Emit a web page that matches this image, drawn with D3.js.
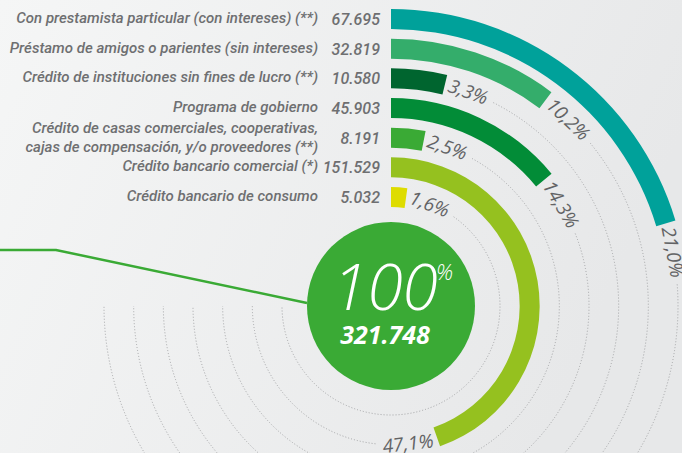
<!DOCTYPE html>
<html>
<head>
<meta charset="utf-8">
<script src="https://cdn.jsdelivr.net/npm/d3@7"></script>
<style>
  html, body { margin: 0; padding: 0; }
  svg { display: block; }
  .label { font-family: Roboto, "Open Sans", sans-serif; font-style: italic; font-weight: 500; font-size: 15px; fill: #6e6f71; }
  .value { font-family: Roboto, "Open Sans", sans-serif; font-style: italic; font-weight: 500; font-size: 16px; fill: #6e6f71; }
  .pct { font-family: "Open Sans", sans-serif; font-style: italic; font-weight: 400; font-size: 19px; fill: #626365; }
  .track { fill: none; stroke: #a3a4a6; stroke-width: 1; stroke-dasharray: 1 2; }
</style>
</head>
<body>
<svg id="chart" width="682" height="453"></svg>
<script>
// Financing sources, outermost ring first
var categories = [
  ["Con prestamista particular (con intereses) (**)"],
  ["Préstamo de amigos o parientes (sin intereses)"],
  ["Crédito de instituciones sin fines de lucro (**)"],
  ["Programa de gobierno"],
  ["Crédito de casas comerciales, cooperativas,", "cajas de compensación, y/o proveedores (**)"],
  ["Crédito bancario comercial (*)"],
  ["Crédito bancario de consumo"]
];
var values = [67695, 32819, 10580, 45903, 8191, 151529, 5032];
var total = 321748;
var colors = ["#00a19a", "#34ad6b", "#00652f", "#028c37", "#3aaa35", "#95c11f", "#dedc00"];

var svg = d3.select("#chart");
var width = +svg.attr("width");
var height = +svg.attr("height");
var cx = 391, cy = 306;

// Spanish number formats: 67.695 and 21,0
var es = d3.formatLocale({ decimal: ",", thousands: ".", grouping: [3], currency: ["$", ""] });
var fmtValue = es.format(",d");
var fmtPct = es.format(".1f");

var pct = values.map(function(v) { return v / total * 100; });

// background
var defs = svg.append("defs");
var grad = defs.append("linearGradient").attr("id", "bg").attr("x1", 0).attr("x2", 1).attr("y1", 0).attr("y2", 0.3);
grad.append("stop").attr("offset", 0).attr("stop-color", "#f5f6f6");
grad.append("stop").attr("offset", 1).attr("stop-color", "#e7e8e9");
svg.append("rect").attr("width", width).attr("height", height).attr("fill", "url(#bg)");

// ring radius per category, angle per percentage
var radius = d3.scalePoint().domain(d3.range(categories.length)).range([287, 109]);
var angle = d3.scaleLinear().domain([0, 100]).range([2.64 * Math.PI / 180, 338.3 * Math.PI / 180]);
var half = 10;

var arc = d3.arc()
  .innerRadius(function(d, i) { return radius(i) - half; })
  .outerRadius(function(d, i) { return radius(i) + half; })
  .startAngle(0)
  .endAngle(function(d) { return angle(d); });

var center = svg.append("g").attr("transform", "translate(" + cx + "," + cy + ")");

// leader line into the big circle
var leader = d3.line();
svg.append("path")
  .attr("d", leader([[0, 250], [56, 250], [cx - 84, cy - 3]]))
  .attr("fill", "none").attr("stroke", "#3aaa35").attr("stroke-width", 2.5);

center.append("circle").attr("r", 84).attr("fill", "#3aaa35");

var rings = center.selectAll("g.ring")
  .data(pct)
  .enter().append("g").attr("class", "ring");

rings.append("path")
  .attr("d", function(d, i) { return arc(d, i); })
  .attr("fill", function(d, i) { return colors[i]; });

rings.each(function(d, i) {
  var g = d3.select(this);
  var r = radius(i);
  var a1 = angle(d);
  var t = g.append("text").attr("class", "pct")
    .attr("text-anchor", "middle")
    .attr("dy", "0.35em")
    .text(fmtPct(d) + "%");
  var w = t.node().getComputedTextLength();
  var gap = 4;
  var mid = a1 + (gap + w / 2) / r;
  var deg = mid * 180 / Math.PI;
  t.attr("transform", "rotate(" + deg + ") translate(0," + (-r) + ")" + (deg > 120 ? " rotate(180)" : ""));

  // dotted track from the label round to the left horizontal
  var start = a1 + (gap * 2 + w + 3) / r;
  var p = d3.path();
  p.arc(0, 0, r, start - Math.PI / 2, Math.PI);
  g.insert("path", ":first-child").attr("class", "track").attr("d", p.toString());
});

// category labels and values
var rows = svg.selectAll("g.row")
  .data(categories)
  .enter().append("g").attr("class", "row")
  .attr("transform", function(d, i) { return "translate(0," + (cy - radius(i)) + ")"; });

rows.append("text").attr("class", "label")
  .attr("text-anchor", "end")
  .attr("x", 318)
  .selectAll("tspan")
  .data(function(d) { return d; })
  .enter().append("tspan")
    .attr("x", 318)
    .attr("y", function(d, j, nodes) { return nodes.length > 1 ? (j === 0 ? -5 : 14) : 4; })
    .text(function(d) { return d; });

rows.append("text").attr("class", "value")
  .attr("text-anchor", "end")
  .attr("x", 380)
  .attr("y", 6)
  .text(function(d, i) { return fmtValue(values[i]); });

// total in the middle
center.append("text")
  .attr("x", -6).attr("y", 4)
  .attr("text-anchor", "middle")
  .style("font-family", "'Open Sans', sans-serif")
  .style("font-style", "italic").style("font-weight", 300)
  .style("font-size", "64px").attr("fill", "#fff")
  .text("100");
center.append("text")
  .attr("x", 45).attr("y", -26)
  .style("font-family", "'Open Sans', sans-serif")
  .style("font-style", "italic").style("font-weight", 300)
  .style("font-size", "22px").attr("fill", "#fff")
  .text("%");
center.append("text")
  .attr("x", -6).attr("y", 38)
  .attr("text-anchor", "middle")
  .style("font-family", "'Open Sans', sans-serif")
  .style("font-style", "italic").style("font-weight", 700)
  .style("font-size", "25px").attr("fill", "#fff")
  .text(fmtValue(total));
</script>
</body>
</html>
